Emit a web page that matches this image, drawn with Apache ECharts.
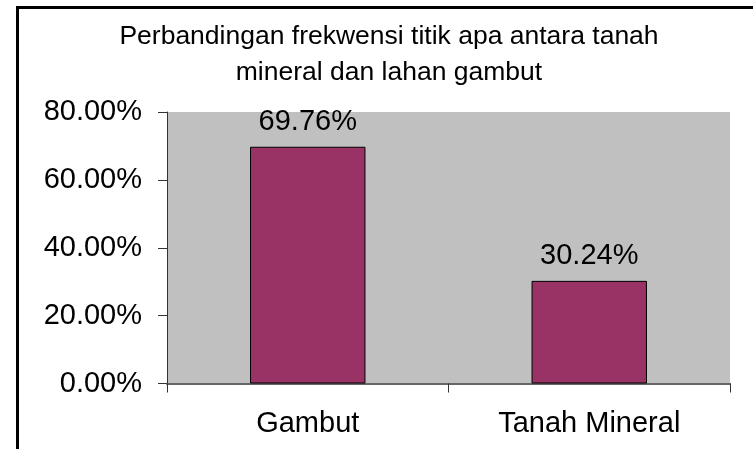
<!DOCTYPE html>
<html>
<head>
<meta charset="utf-8">
<script src="https://cdn.jsdelivr.net/npm/echarts@6/dist/echarts.min.js"></script>
<style>
html,body{margin:0;padding:0;background:#fff;}
#chart{width:753px;height:449px;}
</style>
</head>
<body>
<div id="chart"></div>
<script>
const titleText = 'Perbandingan frekwensi titik apa antara tanah\nmineral dan lahan gambut';
const categories = ['Gambut', 'Tanah Mineral'];
const values = [0.6976, 0.3024];
const yTicks = [0, 0.2, 0.4, 0.6, 0.8];

const FONT = "'Liberation Sans', Arial, sans-serif";
const chart = echarts.init(document.getElementById('chart'), null, {renderer: 'canvas'});
chart.setOption({
  animation: false,
  backgroundColor: '#ffffff',
  title: {
    text: titleText,
    left: 389,
    top: 19,
    padding: 0,
    textAlign: 'center',
    textStyle: {fontFamily: FONT, fontSize: 26.5, fontWeight: 'normal', color: '#000', lineHeight: 36}
  },
  graphic: [{
    type: 'rect',
    shape: {x: 17.5, y: 7.5, width: 900, height: 600},
    style: {fill: 'none', stroke: '#000', lineWidth: 3},
    silent: true
  }],
  grid: {
    left: 167, right: 23, top: 112, bottom: 65.5,
    show: true, backgroundColor: '#C0C0C0', borderWidth: 0
  },
  xAxis: {
    type: 'category',
    data: categories,
    axisLine: {lineStyle: {color: '#666', width: 2}},
    axisTick: {show: true, length: 9, alignWithLabel: false, lineStyle: {color: '#333', width: 1}},
    axisLabel: {fontFamily: FONT, fontSize: 29, color: '#000', margin: 26}
  },
  yAxis: {
    type: 'value',
    min: yTicks[0],
    max: yTicks[yTicks.length - 1],
    interval: 0.2,
    splitLine: {show: false},
    axisLine: {show: true, lineStyle: {color: '#333', width: 1}},
    axisTick: {show: true, length: 9, lineStyle: {color: '#333', width: 1}},
    axisLabel: {
      fontFamily: FONT, fontSize: 29, color: '#000', margin: 25,
      formatter: v => (v * 100).toFixed(2) + '%'
    }
  },
  series: [{
    type: 'bar',
    data: values,
    barWidth: '41%',
    itemStyle: {color: '#993366', borderColor: '#000', borderWidth: 1},
    label: {
      show: true, position: 'top', distance: 10,
      fontFamily: FONT, fontSize: 29, color: '#000',
      formatter: p => (p.value * 100).toFixed(2) + '%'
    }
  }]
});
</script>
</body>
</html>
